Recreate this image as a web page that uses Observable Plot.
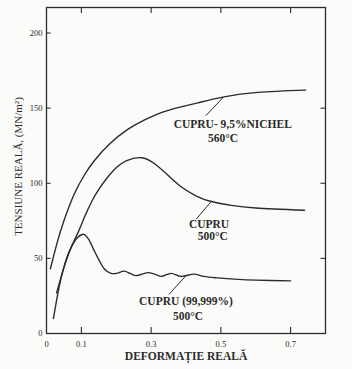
<!DOCTYPE html>
<html>
<head>
<meta charset="utf-8">
<script src="https://cdn.jsdelivr.net/npm/d3@7"></script>
<script src="https://cdn.jsdelivr.net/npm/@observablehq/plot@0.6"></script>
<style>
  html, body { margin: 0; padding: 0; background: #fbfbf9; }
  svg { display: block; }
</style>
</head>
<body>
<div id="chart"></div>
<script>
// ---- data ----
const xTicks = [0, 0.1, 0.3, 0.5, 0.7];
const yTicks = [0, 50, 100, 150, 200];

// Cupru - 9,5% Nichel, 560°C
const niStrain = [0.011, 0.03, 0.05, 0.08, 0.11, 0.137, 0.18, 0.234, 0.28, 0.329, 0.38, 0.434, 0.509, 0.606, 0.743];
const niStress = [43, 60, 75, 93, 106, 115, 126, 136, 142, 147, 150.5, 153.5, 157.5, 160.5, 162];

// Cupru, 500°C
const cuStrain = [0.029, 0.05, 0.07, 0.09, 0.11, 0.13, 0.15, 0.19, 0.23, 0.272, 0.31, 0.35, 0.39, 0.43, 0.47, 0.53, 0.6, 0.74];
const cuStress = [27, 44, 57, 67, 78, 88, 96, 108, 115, 117, 113, 105, 97, 91.5, 88, 85.3, 83.5, 82];

// Cupru (99,999%), 500°C
const pureStrain = [0.02, 0.043, 0.066, 0.09, 0.107, 0.12, 0.135, 0.148, 0.166, 0.185, 0.2, 0.223, 0.24, 0.257, 0.29, 0.31, 0.329, 0.357, 0.386, 0.423, 0.451, 0.49, 0.55, 0.6, 0.7];
const pureStress = [10, 38, 55, 64, 66, 63, 56, 50, 43, 40, 40, 41.5, 40, 38.5, 40.5, 39.5, 38, 40, 38, 39.5, 38, 37, 36, 35.5, 35];

const toRows = (xs, ys) => xs.map((x, i) => ({x, y: ys[i]}));
const ni = toRows(niStrain, niStress);
const cu = toRows(cuStrain, cuStress);
const pure = toRows(pureStrain, pureStress);

// annotation labels
const labels = [
  {x: 0.534, y: 139, t: "CUPRU- 9,5%NICHEL"},
  {x: 0.506, y: 130, t: "560°C"},
  {x: 0.466, y: 72.5, t: "CUPRU"},
  {x: 0.477, y: 64.5, t: "500°C"},
  {x: 0.40, y: 21.5, t: "CUPRU (99,999%)"},
  {x: 0.406, y: 11.5, t: "500°C"}
];
const leaders = [
  {x1: 0.506, y1: 157, x2: 0.457, y2: 145},
  {x1: 0.471, y1: 87.5, x2: 0.429, y2: 76},
  {x1: 0.40, y1: 38.5, x2: 0.351, y2: 26}
];

const ink = "#2b2b2b";
const font = "Liberation Serif, serif";
const yMax = 217;

const chart = Plot.plot({
  width: 352,
  height: 369,
  marginLeft: 46,
  marginRight: 27,
  marginTop: 7,
  marginBottom: 36,
  style: {background: "transparent", fontFamily: font, color: ink},
  x: {domain: [0, 0.8]},
  y: {domain: [0, yMax]},
  marks: [
    Plot.frame({stroke: ink, strokeWidth: 1.3}),
    Plot.axisX({ticks: xTicks, tickSize: 0, tickPadding: 7, tickFormat: d => d === 0 ? "0" : String(d), fontSize: 8.5, label: null}),
    Plot.axisY({ticks: yTicks, tickSize: 0, tickPadding: 4, tickFormat: d => String(d), fontSize: 8.5, label: null}),
    Plot.ruleX(xTicks.filter(d => d > 0), {y1: 0, y2: 4, stroke: ink, strokeWidth: 1.1}),
    Plot.ruleX(xTicks.filter(d => d > 0), {y1: yMax - 4, y2: yMax, stroke: ink, strokeWidth: 1.1}),
    Plot.ruleY(yTicks.filter(d => d > 0), {x1: 0, x2: 0.013, stroke: ink, strokeWidth: 1.1}),
    Plot.ruleY(yTicks.filter(d => d > 0 && d < 200), {x1: 0.787, x2: 0.8, stroke: ink, strokeWidth: 1.1}),
    Plot.line(ni, {x: "x", y: "y", curve: "natural", stroke: ink, strokeWidth: 1.4}),
    Plot.line(cu, {x: "x", y: "y", curve: "natural", stroke: ink, strokeWidth: 1.4}),
    Plot.line(pure, {x: "x", y: "y", curve: "catmull-rom", stroke: ink, strokeWidth: 1.4}),
    Plot.link(leaders, {x1: "x1", y1: "y1", x2: "x2", y2: "y2", stroke: ink, strokeWidth: 1}),
    Plot.text(labels, {x: "x", y: "y", text: "t", fontSize: 11.5, fontWeight: "bold", fill: ink}),
    Plot.text(["DEFORMAȚIE REALĂ"], {frameAnchor: "bottom", x: [0.4], dy: 26, fontSize: 11.5, fontWeight: "bold", fill: ink}),
    Plot.text(["TENSIUNE REALĂ, (MN/m²)"], {frameAnchor: "left", y: [65], dx: -28, rotate: -90, fontSize: 11, fill: ink})
  ]
});
document.getElementById("chart").appendChild(chart);
</script>
</body>
</html>
